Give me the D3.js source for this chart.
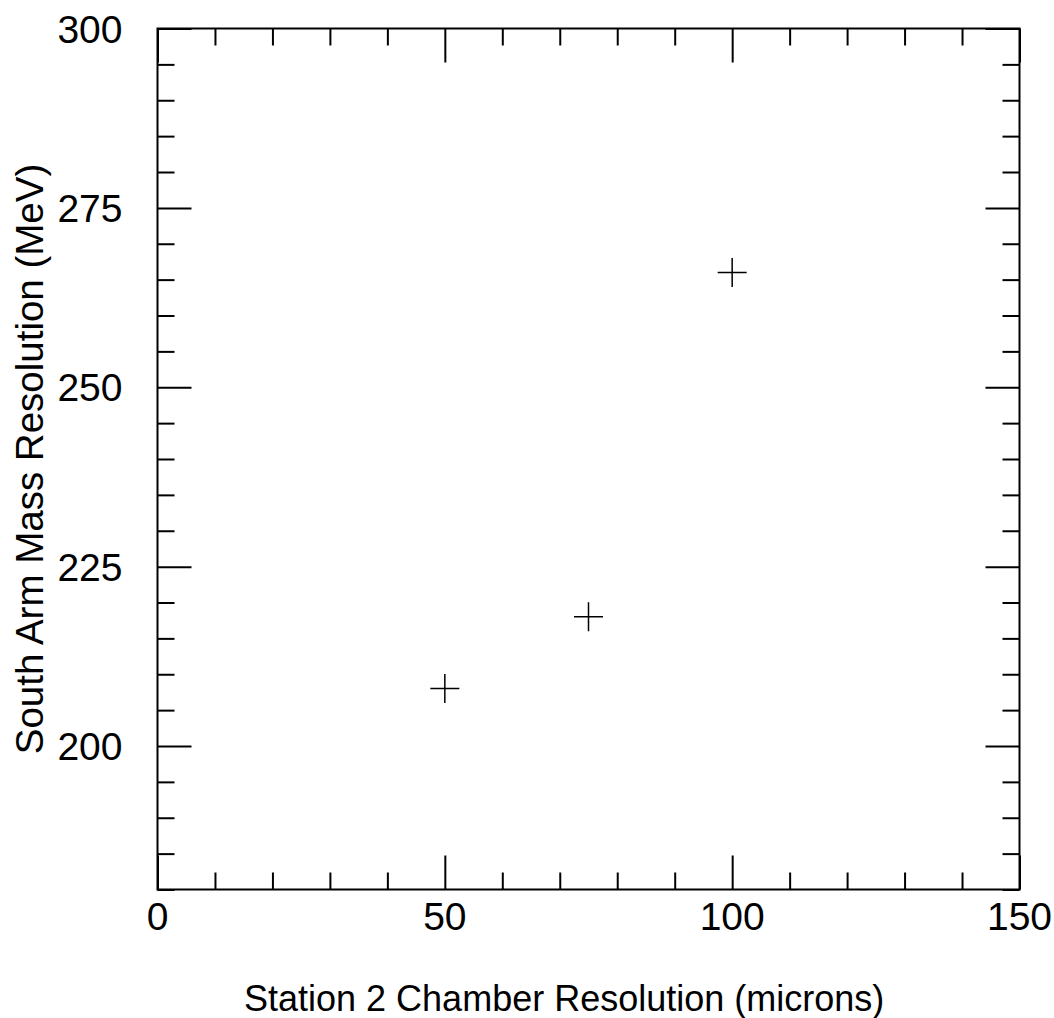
<!DOCTYPE html>
<html>
<head>
<meta charset="utf-8">
<script src="https://cdn.jsdelivr.net/npm/d3@7"></script>
<style>
  html, body { margin: 0; padding: 0; background: #fff; }
  svg { display: block; }
  text { font-family: "Liberation Sans", Arial, sans-serif; fill: #000; }
</style>
</head>
<body>
<svg id="chart" width="1054" height="1018"></svg>
<script>
// Station 2 chamber resolution (microns) vs. south arm mass resolution (MeV)
const chamberResolution = [50, 75, 100];
const massResolution = [208, 218, 266];

const xMajorTicks = [0, 50, 100, 150];
const yMajorTicks = [200, 225, 250, 275, 300];
const xMinorStep = 10;
const yMinorStep = 5;

const xTitle = "Station 2 Chamber Resolution (microns)";
const yTitle = "South Arm Mass Resolution (MeV)";

const width = 1054, height = 1018;
const frame = { left: 157.5, right: 1019.5, top: 28.5, bottom: 889.5 };

const svg = d3.select("#chart");

const x = d3.scaleLinear().domain([0, 150]).range([frame.left, frame.right]);
const y = d3.scaleLinear().domain([180, 300]).range([frame.bottom, frame.top]);

const xMinor = d3.range(0, 150 + 1e-9, xMinorStep).filter(v => !xMajorTicks.includes(v));
const yMinor = d3.range(180, 300 + 1e-9, yMinorStep).filter(v => !yMajorTicks.includes(v));

const majorLen = 34, minorLen = 17;
const tickStroke = 2;

// Ticks pointing inward on all four sides
function drawTicks(axisGen, transform) {
  const g = svg.append("g").attr("transform", transform).call(axisGen);
  g.select(".domain").remove();
  g.selectAll(".tick line").attr("stroke", "#000").attr("stroke-width", tickStroke);
  return g;
}

// Bottom & top
drawTicks(d3.axisBottom(x).tickValues(xMajorTicks).tickSize(-majorLen).tickFormat(""), `translate(0,${frame.bottom})`);
drawTicks(d3.axisBottom(x).tickValues(xMinor).tickSize(-minorLen).tickFormat(""), `translate(0,${frame.bottom})`);
drawTicks(d3.axisTop(x).tickValues(xMajorTicks).tickSize(-majorLen).tickFormat(""), `translate(0,${frame.top})`);
drawTicks(d3.axisTop(x).tickValues(xMinor).tickSize(-minorLen).tickFormat(""), `translate(0,${frame.top})`);
// Left & right
drawTicks(d3.axisLeft(y).tickValues(yMajorTicks).tickSize(-majorLen).tickFormat(""), `translate(${frame.left},0)`);
drawTicks(d3.axisLeft(y).tickValues(yMinor).tickSize(-minorLen).tickFormat(""), `translate(${frame.left},0)`);
drawTicks(d3.axisRight(y).tickValues(yMajorTicks).tickSize(-majorLen).tickFormat(""), `translate(${frame.right},0)`);
drawTicks(d3.axisRight(y).tickValues(yMinor).tickSize(-minorLen).tickFormat(""), `translate(${frame.right},0)`);

// Frame
svg.append("rect")
  .attr("x", frame.left).attr("y", frame.top)
  .attr("width", frame.right - frame.left).attr("height", frame.bottom - frame.top)
  .attr("fill", "none").attr("stroke", "#000").attr("stroke-width", tickStroke);

// Tick labels
const labelSize = 39;
svg.append("g").selectAll("text").data(xMajorTicks).join("text")
  .attr("x", d => x(d)).attr("y", frame.bottom + 40.5)
  .attr("text-anchor", "middle")
  .style("font-size", labelSize + "px")
  .text(d => d);

svg.append("g").selectAll("text").data(yMajorTicks).join("text")
  .attr("x", frame.left - 35).attr("y", d => y(d) + 14)
  .attr("text-anchor", "end")
  .style("font-size", labelSize + "px")
  .text(d => d);

// Axis titles
svg.append("text")
  .attr("x", 244).attr("y", 1010.5)
  .attr("text-anchor", "start")
  .style("font-size", "36px")
  .text(xTitle);

svg.append("text")
  .attr("transform", `translate(43,${(frame.top + frame.bottom) / 2}) rotate(-90)`)
  .attr("text-anchor", "middle")
  .style("font-size", "38.5px")
  .text(yTitle);

// Data markers (plus signs)
const half = 14.5;
const pts = chamberResolution.map((c, i) => ({ c, m: massResolution[i] }));
const marks = svg.append("g").attr("stroke", "#000").attr("stroke-width", 1.5);
marks.selectAll("path").data(pts).join("path")
  .attr("d", d => {
    const cx = x(d.c), cy = y(d.m);
    return `M${cx - half},${cy}H${cx + half}M${cx},${cy - half}V${cy + half}`;
  });
</script>
</body>
</html>
